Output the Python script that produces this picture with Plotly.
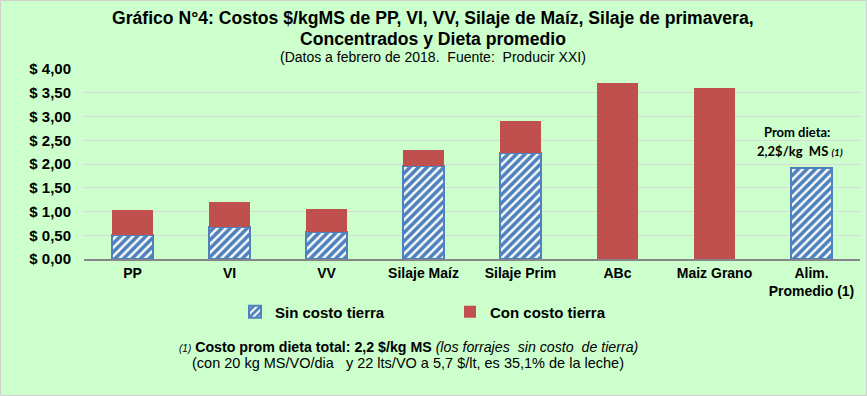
import plotly.graph_objects as go

categories = ["PP", "VI", "VV", "Silaje Maíz", "Silaje Prim", "ABc", "Maiz Grano", "Alim.<br>Promedio (1)"]
sin_costo = [0.50, 0.68, 0.57, 1.95, 2.23, None, None, 1.91]
con_costo_extra = [0.53, 0.53, 0.48, 0.34, 0.68, 3.70, 3.60, None]
y_ticks = [0, 0.5, 1.0, 1.5, 2.0, 2.5, 3.0, 3.5, 4.0]
y_tick_labels = ["$ 0,00", "$ 0,50", "$ 1,00", "$ 1,50", "$ 2,00", "$ 2,50", "$ 3,00", "$ 3,50", "$ 4,00"]

W, H = 867, 396
L, R, T, B = 84, 7, 69, 137
PW, PH = W - L - R, H - T - B

def px(x):
    return (x - L) / PW

def py(y):
    return (H - B - y) / PH

FONT = "Liberation Sans, Arial, sans-serif"
BLUE = "#4F81BD"
RED = "#C0504D"
BG = "#CCFFCC"

fig = go.Figure()
fig.add_trace(go.Bar(
    x=categories, y=sin_costo, name="<b>Sin costo tierra</b>",
    marker=dict(color="white", line=dict(color=BLUE, width=2),
                pattern=dict(shape="/", fgcolor=BLUE, bgcolor="white", size=6, solidity=0.6, fgopacity=1)),
    width=0.42,
))
fig.add_trace(go.Bar(
    x=categories, y=con_costo_extra, name="<b>Con costo tierra</b>",
    marker=dict(color=RED, line=dict(width=0)),
    width=0.42,
))

annotations = [
    dict(x=px(433), y=py(18), text="<b>Gráfico N°4: Costos $/kgMS de PP, VI, VV, Silaje de Maíz, Silaje de primavera,</b>",
         font=dict(size=17.6, family=FONT, color="black")),
    dict(x=px(433), y=py(39), text="<b>Concentrados y Dieta promedio</b>",
         font=dict(size=17.6, family=FONT, color="black")),
    dict(x=px(433), y=py(57), text="(Datos a febrero de 2018.  Fuente:  Producir XXI)",
         font=dict(size=14, family=FONT, color="black")),
    dict(x=px(797), y=py(132), text="<b>Prom dieta:</b>",
         font=dict(size=13, family="Lato, Open Sans, sans-serif", color="black")),
    dict(x=px(800), y=py(151), text="<b>2,2$/kg  MS <i><span style='font-size:10px'>(1)</span></i></b>",
         font=dict(size=13, family="Lato, Open Sans, sans-serif", color="black")),
    dict(x=px(408), y=py(347),
         text="<i><span style='font-size:10px'>(1)</span></i> <b>Costo prom dieta total: 2,2 $/kg MS</b> <i>(los forrajes  sin costo  de tierra)</i>",
         font=dict(size=14.2, family=FONT, color="black")),
    dict(x=px(408), y=py(363),
         text="(con 20 kg MS/VO/dia   y 22 lts/VO a 5,7 $/lt, es 35,1% de la leche)",
         font=dict(size=14.5, family=FONT, color="black")),
]
for a in annotations:
    a.update(xref="paper", yref="paper", showarrow=False, xanchor="center", yanchor="middle")

fig.update_layout(
    width=W, height=H,
    margin=dict(l=L, r=R, t=T, b=B, autoexpand=False),
    paper_bgcolor=BG, plot_bgcolor=BG,
    barmode="stack",
    font=dict(family=FONT, color="black"),
    showlegend=True,
    legend=dict(orientation="h", x=px(235), y=py(312), xanchor="left", yanchor="middle",
                font=dict(size=15, family=FONT, color="black"), bgcolor="rgba(0,0,0,0)",
                entrywidth=170, itemwidth=30, traceorder="normal"),
    annotations=annotations,
    shapes=[dict(type="rect", xref="paper", yref="paper",
                 x0=px(0.5), x1=px(W - 0.5), y0=py(H - 0.5), y1=py(0.5),
                 line=dict(color="#D0D0D0", width=1), fillcolor="rgba(0,0,0,0)", layer="below")],
)
fig.update_xaxes(
    type="category", showgrid=False, showline=True, linecolor="#868686", linewidth=1.5,
    ticks="", tickfont=dict(size=14, family=FONT, color="black"),
    tickprefix="<b>", ticksuffix="</b>",
)
fig.update_yaxes(
    range=[0, 4], tickvals=y_ticks, ticktext=["<b>" + t + "</b>" for t in y_tick_labels],
    showgrid=True, gridcolor="#D9D9D9", gridwidth=1, zeroline=False, showline=False,
    tickfont=dict(size=15, family=FONT, color="black"), ticks="", ticklabelstandoff=12,
)

fig.write_html("out.html", config={"displayModeBar": False},
               post_script="document.body.style.margin='0';")
